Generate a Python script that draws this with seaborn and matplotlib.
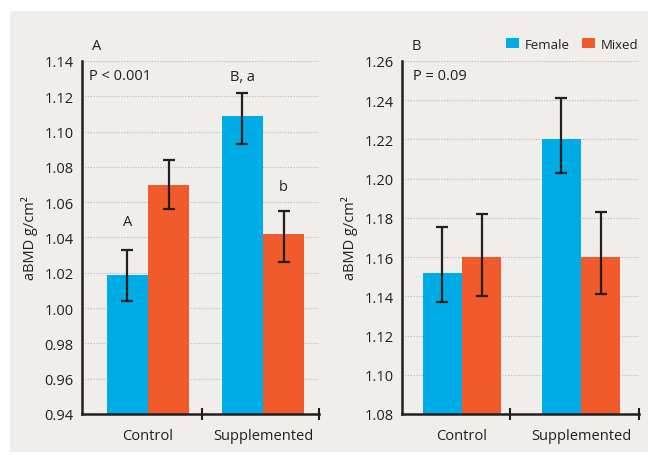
import matplotlib.pyplot as plt
import numpy as np
import pandas as pd
import seaborn as sns
from matplotlib.patches import Patch, Rectangle

# Data
GROUPS = ["Control", "Supplemented"]
SEXES = ["Female", "Mixed"]

A_FEMALE = [1.019, 1.109]
A_MIXED = [1.070, 1.042]
A_FEMALE_LOW = [1.004, 1.093]
A_FEMALE_HIGH = [1.033, 1.122]
A_MIXED_LOW = [1.056, 1.026]
A_MIXED_HIGH = [1.084, 1.055]
A_YTICKS = [0.94, 0.96, 0.98, 1.00, 1.02, 1.04, 1.06, 1.08, 1.10, 1.12, 1.14]
A_LETTERS = [
    ("Control", "Female", "A", 1.049),
    ("Supplemented", "Female", "B, a", 1.131),
    ("Supplemented", "Mixed", "b", 1.069),
]

B_FEMALE = [1.152, 1.220]
B_MIXED = [1.160, 1.160]
B_FEMALE_LOW = [1.137, 1.203]
B_FEMALE_HIGH = [1.1755, 1.241]
B_MIXED_LOW = [1.140, 1.141]
B_MIXED_HIGH = [1.182, 1.183]
B_YTICKS = [1.08, 1.10, 1.12, 1.14, 1.16, 1.18, 1.20, 1.22, 1.24, 1.26]

COLORS = {"Female": "#00ace6", "Mixed": "#f15a2b"}
INK = "#231f20"
PANEL_BG = "#efeeea"
FS = 10.5

sns.set_style("white")
plt.rcParams.update(
    {
        "font.family": ["Open Sans", "DejaVu Sans"],
        "font.size": FS,
        "text.color": INK,
        "axes.labelcolor": INK,
        "xtick.color": INK,
        "ytick.color": INK,
    }
)


def make_frame(female, mixed, female_low, female_high, mixed_low, mixed_high):
    return pd.DataFrame(
        {
            "Group": GROUPS * 2,
            "Sex": ["Female"] * len(GROUPS) + ["Mixed"] * len(GROUPS),
            "aBMD": female + mixed,
            "Low": female_low + mixed_low,
            "High": female_high + mixed_high,
        }
    )


def draw_panel(ax, df, yticks, width, xlim, sep, label, pvalue, letters):
    sns.barplot(
        data=df,
        x="Group",
        y="aBMD",
        hue="Sex",
        order=GROUPS,
        hue_order=SEXES,
        palette=COLORS,
        saturation=1,
        width=width,
        linewidth=0,
        legend=False,
        ax=ax,
    )
    centers = {}
    for sex, container in zip(SEXES, ax.containers):
        sub = df[df["Sex"] == sex].set_index("Group").loc[GROUPS]
        xs = [bar.get_x() + bar.get_width() / 2 for bar in container]
        mid = (sub["Low"] + sub["High"]) / 2
        ax.errorbar(
            xs,
            mid,
            yerr=[mid - sub["Low"], sub["High"] - mid],
            fmt="none",
            ecolor=INK,
            elinewidth=1.6,
            capsize=4.5,
            capthick=1.6,
            zorder=5,
        )
        for group, x in zip(GROUPS, xs):
            centers[(group, sex)] = x

    for group, sex, text, y in letters:
        ax.text(centers[(group, sex)], y, text, ha="center", va="center", fontsize=FS)

    ax.set_ylim(yticks[0], yticks[-1])
    ax.set_yticks(yticks)
    ax.set_yticklabels([f"{t:.2f}" for t in yticks])
    ax.set_xlim(*xlim)
    ax.set_xlabel("")
    ax.set_ylabel("aBMD g/cm²", labelpad=5)
    ax.set_facecolor("none")

    ax.yaxis.grid(True, linestyle=(0, (1, 1.5)), color="#b8b8b4", linewidth=0.8)
    ax.set_axisbelow(True)
    for side in ("top", "right"):
        ax.spines[side].set_visible(False)
    for side in ("left", "bottom"):
        ax.spines[side].set_color(INK)
        ax.spines[side].set_linewidth(1.8)

    ax.tick_params(axis="y", length=0, pad=6, labelsize=FS)
    ax.tick_params(axis="x", which="major", length=0, pad=10, labelsize=FS)
    ax.set_xticks([sep, xlim[1]], minor=True)
    ax.tick_params(
        axis="x",
        which="minor",
        bottom=True,
        direction="inout",
        length=8,
        width=1.5,
        color=INK,
    )

    ax.text(0.042, 1.045, label, transform=ax.transAxes, ha="left", va="center")
    ax.text(0.03, 0.958, pvalue, transform=ax.transAxes, ha="left", va="center")


fig = plt.figure(figsize=(6.48, 4.56), dpi=100, facecolor="white")
fig.patches.append(
    Rectangle(
        (10 / 648, 3 / 456),
        1 - 10 / 648,
        441 / 456,
        transform=fig.transFigure,
        facecolor=PANEL_BG,
        edgecolor="none",
        zorder=-10,
    )
)

ax_a = fig.add_axes([82 / 648, 41 / 456, 237 / 648, 353 / 456])
ax_b = fig.add_axes([402 / 648, 41 / 456, 237 / 648, 353 / 456])

draw_panel(
    ax_a,
    make_frame(A_FEMALE, A_MIXED, A_FEMALE_LOW, A_FEMALE_HIGH, A_MIXED_LOW, A_MIXED_HIGH),
    A_YTICKS,
    0.72,
    (-0.574, 1.487),
    0.47,
    "A",
    "P < 0.001",
    A_LETTERS,
)
draw_panel(
    ax_b,
    make_frame(B_FEMALE, B_MIXED, B_FEMALE_LOW, B_FEMALE_HIGH, B_MIXED_LOW, B_MIXED_HIGH),
    B_YTICKS,
    0.66,
    (-0.504, 1.487),
    0.40,
    "B",
    "P = 0.09",
    [],
)
ax_b.texts[-1].set_x(0.046)

handles = [Patch(facecolor=COLORS[s], edgecolor="none", label=s) for s in SEXES]
ax_b.legend(
    handles=handles,
    loc="center right",
    bbox_to_anchor=(0.998, 1.048),
    ncol=2,
    frameon=False,
    handlelength=1.0,
    handleheight=0.9,
    handletextpad=0.45,
    columnspacing=0.9,
    borderpad=0,
    borderaxespad=0,
    fontsize=9.5,
)

fig.savefig("out.png", dpi=100, facecolor="white")
